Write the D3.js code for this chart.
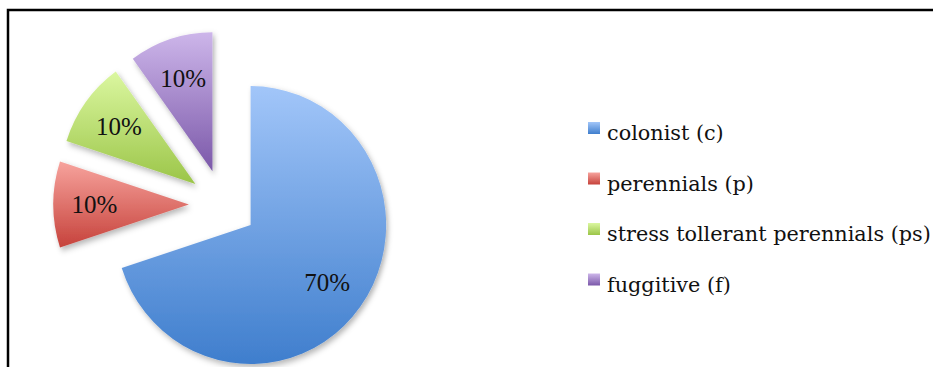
<!DOCTYPE html>
<html>
<head>
<meta charset="utf-8">
<script src="https://cdn.jsdelivr.net/npm/d3@7"></script>
<style>
  html, body { margin: 0; padding: 0; background: #fff; }
  svg { display: block; }
</style>
</head>
<body>
<svg id="chart" width="933" height="367"></svg>
<script>
// ---- data ----
const categories = ["colonist (c)", "perennials (p)", "stress tollerant perennials (ps)", "fuggitive (f)"];
const values = [70, 10, 10, 10];
const labels = ["70%", "10%", "10%", "10%"];
const colorsTop = ["#a2c6f9", "#f7a39d", "#dbf7a0", "#cdb6ea"];
const colorsBottom = ["#3f7ecd", "#c6423b", "#9bc548", "#7b58a9"];

const svg = d3.select("#chart");
const W = 933, H = 367;

// frame
svg.append("path")
  .attr("d", "M8,380 V10 H945")
  .attr("fill", "none").attr("stroke", "#000").attr("stroke-width", 2.5);

const defs = svg.append("defs");
categories.forEach((c, i) => {
  const g = defs.append("linearGradient").attr("id", "grad" + i)
    .attr("x1", 0).attr("y1", 0).attr("x2", 0).attr("y2", 1);
  g.append("stop").attr("offset", "0%").attr("stop-color", colorsTop[i]);
  g.append("stop").attr("offset", "100%").attr("stop-color", colorsBottom[i]);
});
const f = defs.append("filter").attr("id", "shadow")
  .attr("x", "-20%").attr("y", "-20%").attr("width", "140%").attr("height", "140%");
f.append("feDropShadow").attr("dx", 2).attr("dy", 3).attr("stdDeviation", 3)
  .attr("flood-color", "#000").attr("flood-opacity", 0.3);

// pie geometry
const cx = 223, cy = 204.5, r = 139, explode = 35, sx = 0.975;
const pie = d3.pie().sort(null).value(d => d)(values);
const arc = d3.arc().innerRadius(0).outerRadius(r);
const labelArc = d3.arc().innerRadius(97).outerRadius(97);

const pieG = svg.append("g").attr("transform", `translate(${cx},${cy}) scale(${sx},1)`);
pie.forEach((p, i) => {
  const mid = (p.startAngle + p.endAngle) / 2;
  const dx = Math.sin(mid) * explode, dy = -Math.cos(mid) * explode;
  pieG.append("path")
    .attr("d", arc(p))
    .attr("transform", `translate(${dx},${dy})`)
    .attr("fill", `url(#grad${i})`)
    .attr("filter", "url(#shadow)");
});

const labG = svg.append("g").attr("transform", `translate(${cx},${cy})`);
pie.forEach((p, i) => {
  const mid = (p.startAngle + p.endAngle) / 2;
  const dx = Math.sin(mid) * explode, dy = -Math.cos(mid) * explode;
  const c = labelArc.centroid(p);
  labG.append("text")
    .attr("x", (c[0] + dx) * sx).attr("y", c[1] + dy)
    .attr("text-anchor", "middle").attr("dominant-baseline", "central")
    .attr("font-family", "'Liberation Serif', serif").attr("font-size", 25)
    .attr("fill", "#111")
    .text(labels[i]);
});

// legend
const legG = svg.append("g");
const rows = categories.map((c, i) => {
  const y = 122 + i * 50.5;
  const mg = defs.append("linearGradient").attr("id", "lg" + i)
    .attr("x1", 0).attr("y1", 0).attr("x2", 0).attr("y2", 1);
  mg.append("stop").attr("offset", "0%").attr("stop-color", colorsTop[i]);
  mg.append("stop").attr("offset", "100%").attr("stop-color", colorsBottom[i]);
  legG.append("rect").attr("x", 588).attr("y", y).attr("width", 12).attr("height", 12)
    .attr("fill", `url(#lg${i})`);
  return legG.append("text").attr("x", 607).attr("y", y + 18)
    .attr("font-family", "'DejaVu Serif', serif").attr("font-size", 20)
    .attr("fill", "#111").text(c);
});
// fit font size so the longest entry spans like the reference
const longest = rows[2].node().getComputedTextLength();
const fs = 20 * 324 / longest;
rows.forEach(t => t.attr("font-size", fs.toFixed(2)));
</script>
</body>
</html>
